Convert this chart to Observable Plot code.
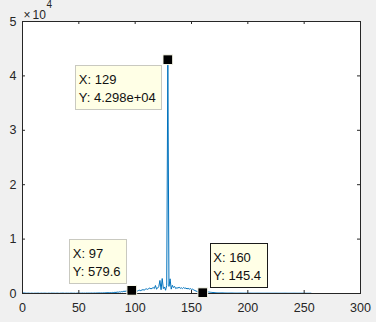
<!DOCTYPE html>
<html><head><meta charset="utf-8">
<script src="https://cdn.jsdelivr.net/npm/d3@7"></script>
<script src="https://cdn.jsdelivr.net/npm/@observablehq/plot@0.6"></script>
<style>
html,body{margin:0;padding:0;background:#f0f0f0;overflow:hidden;}
</style></head><body><div id="chart"></div><script>
// spectrum amplitude, samples 1..256
const amplitude = [
 120, 85, 60, 45, 70, 55, 40, 65, 50, 35,
 60, 45, 55, 70, 40, 50, 65, 45, 55, 60,
 50, 40, 65, 55, 45, 70, 50, 60, 45, 55,
 65, 50, 40, 60, 55, 70, 45, 50, 65, 55,
 60, 45, 70, 55, 50, 65, 40, 60, 75, 55,
 65, 50, 80, 60, 70, 55, 85, 65, 75, 60,
 90, 70, 80, 95, 75, 100, 85, 110, 90, 120,
 100, 130, 115, 140, 125, 160, 140, 180, 150, 200,
 170, 220, 190, 260, 230, 300, 270, 350, 320, 420,
 380, 460, 430, 520, 490, 560, 579.6, 540, 610, 480,
 520, 450, 560, 600, 520, 650, 700, 620, 780, 850,
 760, 900, 1000, 850, 950, 1100, 900, 1470, 800, 1000,
 1300, 2400, 700, 2750, 900, 1200, 600, 1500, 42980, 1300,
 2700, 800, 1500, 1100, 1300, 900, 1050, 1000, 1150, 950,
 1050, 900, 1100, 950, 1000, 850, 950, 800, 900, 750,
 800, 650, 550, 450, 380, 300, 250, 200, 170, 145.4,
 230, 310, 380, 340, 290, 250, 220, 200, 180, 160,
 150, 140, 130, 125, 120, 115, 110, 105, 100, 98,
 95, 92, 90, 88, 86, 84, 82, 80, 78, 77,
 76, 75, 74, 73, 72, 71, 70, 70, 69, 68,
 68, 67, 66, 66, 65, 65, 64, 64, 63, 63,
 62, 62, 61, 61, 60, 60, 60, 59, 59, 59,
 58, 58, 58, 57, 57, 57, 56, 56, 56, 56,
 55, 55, 55, 55, 54, 54, 54, 54, 53, 53,
 53, 53, 52, 52, 52, 52, 52, 51, 51, 51,
 51, 51, 50, 50, 50, 50
];
const xTicks = [0, 50, 100, 150, 200, 250, 300];
const yTicks = [0, 10000, 20000, 30000, 40000, 50000];
const tipX = [97, 129, 160];
const tipY = [579.6, 42980, 145.4];

const W = 376, H = 322, mL = 22, mR = 16, mT = 21, mB = 29;
const innerW = W - mL - mR, innerH = H - mT - mB;
const axisColor = "#262626";
const fontFam = "'Liberation Sans', Arial, Helvetica, sans-serif";

const series = amplitude.map((v, i) => ({x: i + 1, y: v}));
const fmtG = v => v.toPrecision(4).replace(/e([+-])(\d)$/, "e$10$2");
const tips = tipX.map((x, i) => ({x, y: tipY[i], label: `X: ${x}\nY: ${fmtG(tipY[i])}`}));

// datatip text offsets (px) relative to the marker; last tip is the selected one
const tipLayout = [
  {dx: -59, dy: -14, stroke: "#c9c9c0"},
  {dx: -89, dy: 42, stroke: "#c9c9c0"},
  {dx: 10.5, dy: -13, stroke: "#1a1a1a"}
];

const chart = Plot.plot({
  width: W, height: H,
  marginLeft: mL, marginRight: mR, marginTop: mT, marginBottom: mB,
  style: {background: "#f0f0f0", fontFamily: fontFam, fontSize: "12.5px", color: axisColor},
  x: {domain: [0, 300]},
  y: {domain: [0, 50000]},
  marks: [
    Plot.frame({fill: "white", stroke: null}),
    Plot.line(series, {x: "x", y: "y", stroke: "#0072BD", strokeWidth: 1}),
    Plot.frame({stroke: axisColor, strokeWidth: 1}),
    Plot.tickX(xTicks, {x: d => d, insetTop: innerH - 3, stroke: axisColor}),
    Plot.tickX(xTicks, {x: d => d, insetBottom: innerH - 3, stroke: axisColor}),
    Plot.tickY(yTicks, {y: d => d, insetRight: innerW - 3, stroke: axisColor}),
    Plot.tickY(yTicks, {y: d => d, insetLeft: innerW - 3, stroke: axisColor}),
    Plot.axisX({ticks: xTicks, tickSize: 0, tickPadding: 10, label: null, fill: axisColor}),
    Plot.axisY({ticks: yTicks, tickSize: 0, tickPadding: 6, label: null, fill: axisColor, tickFormat: d => d / 10000}),
    Plot.text(["×"], {frameAnchor: "top-left", text: d => d, textAnchor: "start", lineAnchor: "bottom", dx: 1, dy: -3, fontSize: 12, fill: axisColor}),
    Plot.text(["10"], {frameAnchor: "top-left", text: d => d, textAnchor: "start", lineAnchor: "bottom", dx: 10, dy: -3, fontSize: 12, fill: axisColor}),
    Plot.text(["4"], {frameAnchor: "top-left", text: d => d, textAnchor: "start", lineAnchor: "bottom", dx: 24, dy: -14, fontSize: 10, fill: axisColor}),
    ...tips.map((t, i) => Plot.text([t], {
      x: "x", y: "y", text: "label", textAnchor: "start", lineAnchor: "bottom",
      lineHeight: 18 / 13, fontSize: 13, fill: "#111",
      dx: tipLayout[i].dx, dy: tipLayout[i].dy, className: "tiptext" + i
    })),
    Plot.dot(tips, {x: "x", y: "y", symbol: "square", r: 5.5, fill: "black", stroke: "#fffff0", strokeWidth: 1})
  ]
});
document.getElementById("chart").appendChild(chart);

// draw datatip boxes behind the text
const svgRect = chart.getBoundingClientRect();
tips.forEach((t, i) => {
  const g = chart.querySelector("g.tiptext" + i);
  if (!g) return;
  const r = g.getBoundingClientRect();
  const pad = {l: 3.5, r: 5.5, t: 7, b: 3.5};
  const rect = document.createElementNS("http://www.w3.org/2000/svg", "rect");
  rect.setAttribute("x", Math.round(r.left - svgRect.left - pad.l) + 0.5);
  rect.setAttribute("y", Math.round(r.top - svgRect.top - pad.t) + 0.5);
  rect.setAttribute("width", Math.round(r.width + pad.l + pad.r));
  rect.setAttribute("height", Math.round(r.height + pad.t + pad.b));
  rect.setAttribute("fill", "#ffffe6");
  rect.setAttribute("stroke", tipLayout[i].stroke);
  rect.setAttribute("stroke-width", 1);
  g.parentNode.insertBefore(rect, g);
});
</script></body></html>
